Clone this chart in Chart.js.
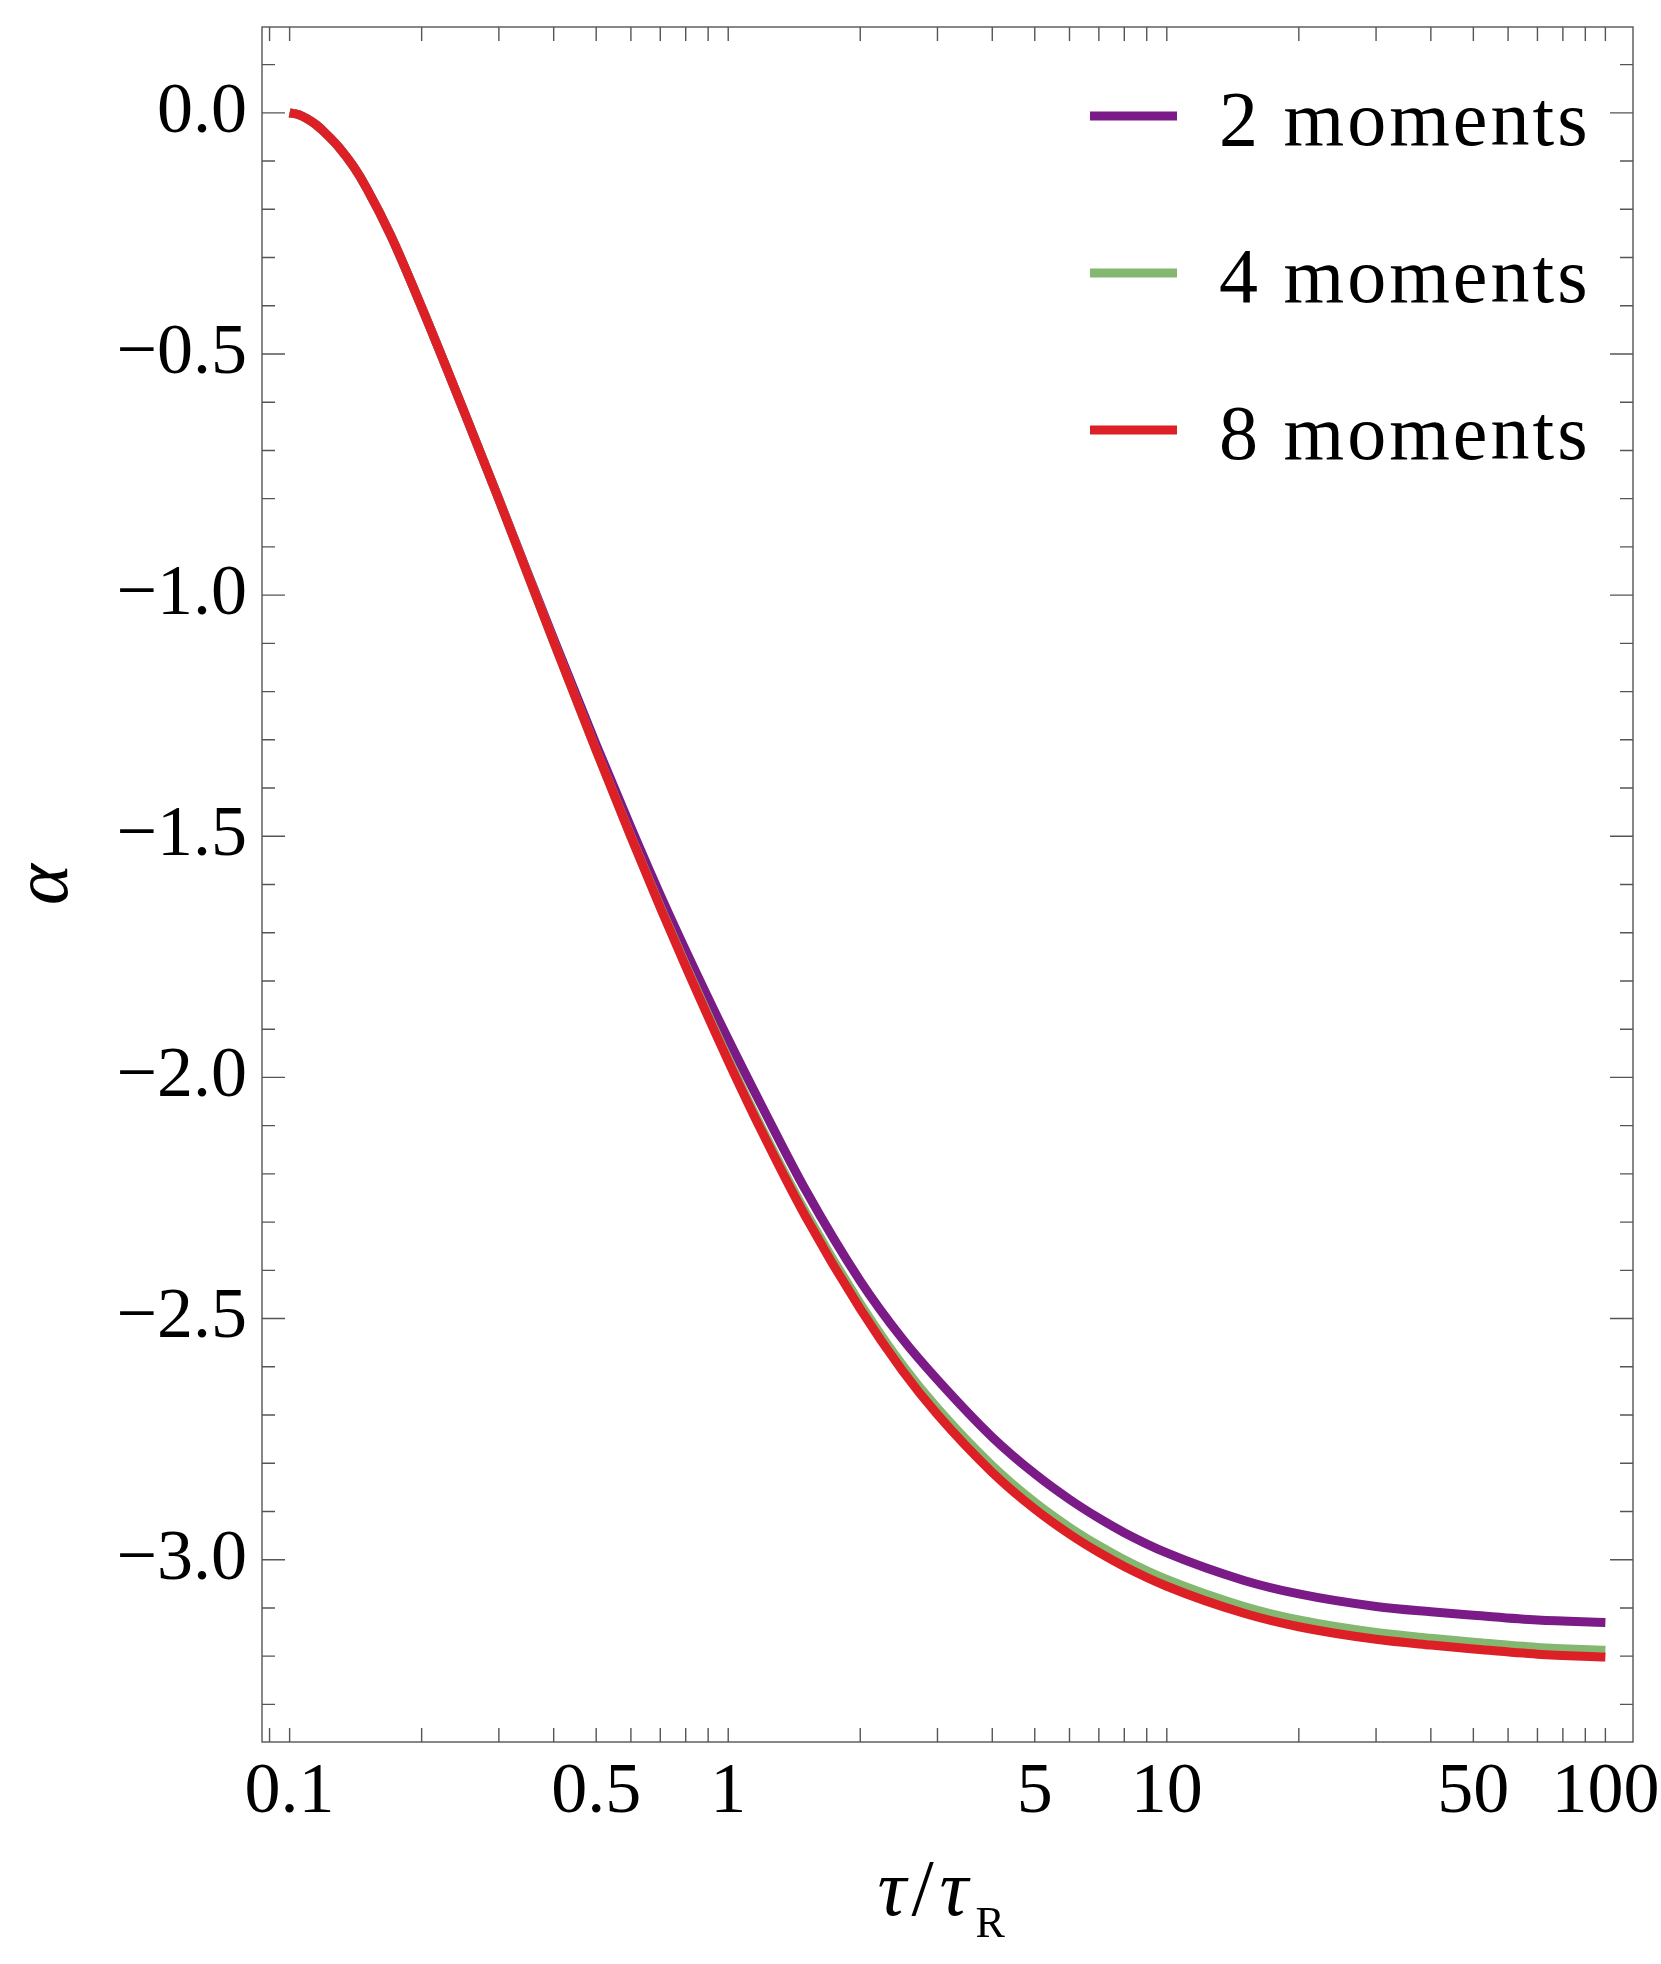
<!DOCTYPE html>
<html>
<head>
<meta charset="utf-8">
<script src="https://cdn.jsdelivr.net/npm/chart.js@4.4.1/dist/chart.umd.min.js"></script>
<style>
  html, body { margin: 0; padding: 0; background: #fff; }
  canvas { display: block; }
</style>
</head>
<body>
<canvas id="alphaChart" width="1661" height="1964"></canvas>
<script>
// tau / tau_R sample points
const tau = [0.1, 0.105, 0.11, 0.115, 0.12, 0.13, 0.14, 0.15, 0.17, 0.2, 0.25, 0.3, 0.35, 0.4, 0.5, 0.6, 0.7, 0.8,
             1, 1.2, 1.5, 2, 2.5, 3, 4, 5, 6, 7, 8, 10, 15, 20, 30, 40, 50, 70, 100];

// alpha for each truncation
const alpha2 = [0, -0.004, -0.013, -0.025, -0.040, -0.073, -0.112, -0.157, -0.254, -0.403, -0.620, -0.801, -0.957,
                -1.091, -1.310, -1.482, -1.622, -1.737, -1.921, -2.064, -2.233, -2.422, -2.543, -2.627, -2.746,
                -2.822, -2.875, -2.914, -2.944, -2.986, -3.043, -3.071, -3.097, -3.108, -3.115, -3.125, -3.130];
const alpha4 = [0, -0.004, -0.013, -0.025, -0.040, -0.073, -0.112, -0.157, -0.254, -0.403, -0.620, -0.802, -0.960,
                -1.097, -1.322, -1.500, -1.646, -1.767, -1.961, -2.110, -2.279, -2.469, -2.597, -2.686, -2.805,
                -2.881, -2.933, -2.971, -3.000, -3.041, -3.097, -3.125, -3.151, -3.163, -3.171, -3.182, -3.188];
const alpha8 = [0, -0.004, -0.013, -0.025, -0.040, -0.073, -0.112, -0.157, -0.254, -0.403, -0.620, -0.802, -0.960,
                -1.097, -1.322, -1.501, -1.648, -1.770, -1.966, -2.117, -2.288, -2.480, -2.609, -2.699, -2.819,
                -2.895, -2.947, -2.985, -3.014, -3.055, -3.111, -3.139, -3.165, -3.177, -3.185, -3.196, -3.202];

const seriesLabels = ['2 moments', '4 moments', '8 moments'];
const seriesColors = ['#7a1b87', '#84b870', '#dc2026'];

// axis ticks
const xMajor = [0.1, 0.5, 1, 5, 10, 50, 100];
const xMajorLabels = ['0.1', '0.5', '1', '5', '10', '50', '100'];
const xMinor = [0.09, 0.2, 0.3, 0.4, 0.6, 0.7, 0.8, 0.9, 2, 3, 4, 6, 7, 8, 9, 20, 30, 40, 60, 70, 80, 90];
const yMajor = [0, -0.5, -1, -1.5, -2, -2.5, -3];
const yMajorLabels = ['0.0', '\u22120.5', '\u22121.0', '\u22121.5', '\u22122.0', '\u22122.5', '\u22123.0'];
const yMinor = [0.1, -0.1, -0.2, -0.3, -0.4, -0.6, -0.7, -0.8, -0.9, -1.1, -1.2, -1.3, -1.4, -1.6, -1.7,
                -1.8, -1.9, -2.1, -2.2, -2.3, -2.4, -2.6, -2.7, -2.8, -2.9, -3.1, -3.2, -3.3];

const serif = '"Liberation Serif", "Times New Roman", serif';

const findLabel = (v, values, labels) => {
    const i = values.findIndex(m => Math.abs(m - v) < 1e-9);
    return i >= 0 ? labels[i] : '';
};

const pairs = (ys) => tau.map((t, i) => ({ x: t, y: ys[i] }));

// frame, inward ticks, legend and x title
const framePlugin = {
    id: 'frame',
    afterDraw(chart) {
        const ctx = chart.ctx;
        const a = chart.chartArea;
        const xs = chart.scales.x;
        const ys = chart.scales.y;
        ctx.save();
        ctx.strokeStyle = '#555';
        ctx.lineWidth = 1.4;
        ctx.strokeRect(a.left, a.top, a.right - a.left, a.bottom - a.top);

        ctx.beginPath();
        xMajor.concat(xMinor).forEach(v => {
            const px = xs.getPixelForValue(v);
            ctx.moveTo(px, a.bottom); ctx.lineTo(px, a.bottom - 14);
            ctx.moveTo(px, a.top); ctx.lineTo(px, a.top + 14);
        });
        yMajor.forEach(v => {
            const py = ys.getPixelForValue(v);
            ctx.moveTo(a.left, py); ctx.lineTo(a.left + 23, py);
            ctx.moveTo(a.right, py); ctx.lineTo(a.right - 23, py);
        });
        yMinor.forEach(v => {
            const py = ys.getPixelForValue(v);
            ctx.moveTo(a.left, py); ctx.lineTo(a.left + 13, py);
            ctx.moveTo(a.right, py); ctx.lineTo(a.right - 13, py);
        });
        ctx.stroke();

        // legend
        ctx.font = '78px ' + serif;
        ctx.letterSpacing = '3px';
        ctx.fillStyle = '#000';
        ctx.textAlign = 'left';
        ctx.textBaseline = 'alphabetic';
        chart.data.datasets.forEach((ds, i) => {
            const y = a.top + 89 + i * 157;
            ctx.strokeStyle = ds.borderColor;
            ctx.lineWidth = 9;
            ctx.beginPath();
            ctx.moveTo(a.right - 543, y);
            ctx.lineTo(a.right - 456, y);
            ctx.stroke();
            ctx.fillText(ds.label, a.right - 414, y + 29);
        });
        ctx.letterSpacing = '0px';

        // x axis title: tau / tau_R
        const cx = (a.left + a.right) / 2;
        const base = 1915;
        ctx.font = 'italic 80px ' + serif;
        ctx.fillText('\u03c4', cx - 70, base);
        ctx.fillText('\u03c4', cx - 8, base);
        ctx.font = '80px ' + serif;
        ctx.fillText('/', cx - 36, base);
        ctx.font = '44px ' + serif;
        ctx.fillText('R', cx + 28, base + 22);
        ctx.restore();
    }
};

const ctx1 = document.getElementById('alphaChart').getContext('2d');

const alphaChart = new Chart(ctx1, {
    type: 'line',
    data: {
        datasets: [
            { label: seriesLabels[0], data: pairs(alpha2), borderColor: seriesColors[0], order: 3 },
            { label: seriesLabels[1], data: pairs(alpha4), borderColor: seriesColors[1], order: 2 },
            { label: seriesLabels[2], data: pairs(alpha8), borderColor: seriesColors[2], order: 1 }
        ]
    },
    options: {
        responsive: false,
        devicePixelRatio: 1,
        animation: false,
        elements: {
            point: { radius: 0 },
            line: { borderWidth: 9, fill: false, cubicInterpolationMode: 'monotone', borderCapStyle: 'butt' }
        },
        layout: { padding: { top: 27, right: 28, left: 0, bottom: 0 } },
        plugins: {
            legend: { display: false },
            tooltip: { enabled: false }
        },
        scales: {
            x: {
                type: 'logarithmic',
                position: 'bottom',
                min: 0.0865,
                max: 115.6,
                grid: { display: false, drawTicks: false, tickLength: 0 },
                border: { display: false },
                ticks: {
                    autoSkip: false,
                    maxRotation: 0,
                    padding: 8,
                    color: '#000',
                    font: { family: serif, size: 72 },
                    callback: (v) => findLabel(v, xMajor, xMajorLabels)
                },
                afterBuildTicks: (scale) => {
                    scale.ticks = xMajor.concat(xMinor).sort((p, q) => p - q).map(v => ({ value: v }));
                },
                afterFit: (scale) => {
                    scale.height = 222;
                    scale.paddingLeft = 0; scale.paddingRight = 0;
                }
            },
            y: {
                type: 'linear',
                min: -3.378,
                max: 0.178,
                grid: { display: false, drawTicks: false, tickLength: 0 },
                border: { display: false },
                title: {
                    display: true,
                    text: '\u03b1',
                    color: '#000',
                    padding: { top: 0, bottom: 0 },
                    font: { family: serif, size: 78, style: 'italic' }
                },
                ticks: {
                    autoSkip: false,
                    padding: 15,
                    color: '#000',
                    font: { family: serif, size: 72 },
                    callback: (v) => findLabel(v, yMajor, yMajorLabels)
                },
                afterBuildTicks: (scale) => {
                    scale.ticks = yMajor.concat(yMinor).sort((p, q) => p - q).map(v => ({ value: v }));
                },
                afterFit: (scale) => {
                    scale.width = 262;
                    scale.paddingTop = 0; scale.paddingBottom = 0;
                }
            }
        }
    },
    plugins: [framePlugin]
});
</script>
</body>
</html>
